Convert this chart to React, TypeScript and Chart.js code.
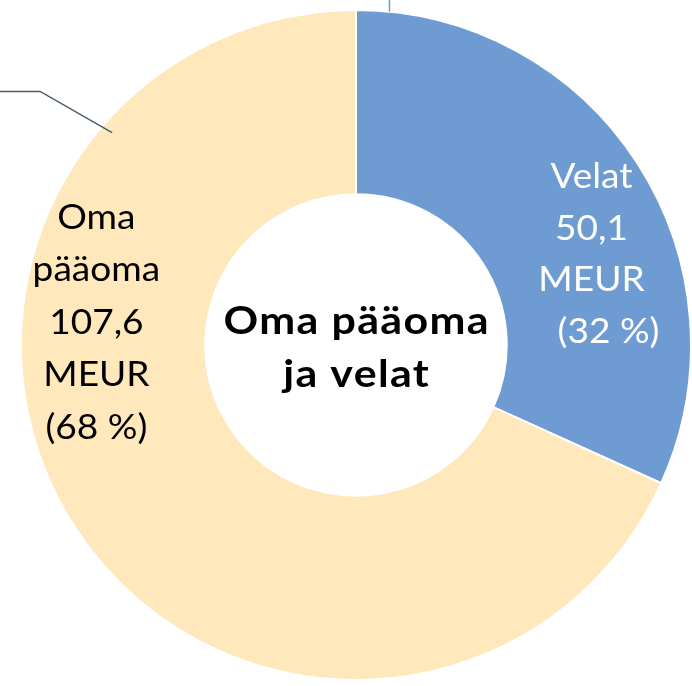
import React, { useEffect, useRef } from "react";
import { Chart, registerables } from "chart.js";

Chart.register(...registerables);

const categories = ["Velat", "Oma pääoma"];
const values = [50.1, 107.6];
const sliceColors = ["#6f9bd3", "#fee8bc"];
const velatLines = ["Velat", "50,1", "MEUR", "(32 %)"];
const omaLines = ["Oma", "pääoma", "107,6", "MEUR", "(68 %)"];
const centerLines = ["Oma pääoma", "ja velat"];

const FONT = "Lato, 'Open Sans', sans-serif";

function wideText(ctx: any, t: string, x: number, y: number, sx: number, spacing: number) {
  ctx.save();
  ctx.translate(x, y);
  ctx.scale(sx, 1);
  ctx.letterSpacing = `${spacing}px`;
  ctx.fillText(t, spacing / 2, 0);
  ctx.restore();
}

const labelPlugin = {
  id: "labels",
  afterDatasetsDraw(chart: any) {
    const ctx = chart.ctx;
    const meta = chart.getDatasetMeta(0);
    const arc = meta.data[0];
    if (!arc) return;
    const cx = arc.x;
    const cy = arc.y;
    const R = arc.outerRadius;
    ctx.save();
    // leader lines
    ctx.lineWidth = 1.5;
    ctx.strokeStyle = "#6f9bd3";
    ctx.beginPath();
    ctx.moveTo(cx + 0.1 * R, cy - 1.035 * R);
    ctx.lineTo(cx + 0.1 * R, cy - 0.995 * R);
    ctx.stroke();
    ctx.strokeStyle = "#4b5b6b";
    ctx.beginPath();
    ctx.moveTo(cx - 1.1 * R, cy - 0.757 * R);
    ctx.lineTo(cx - 0.943 * R, cy - 0.757 * R);
    ctx.lineTo(cx - 0.728 * R, cy - 0.634 * R);
    ctx.stroke();

    ctx.textAlign = "center";
    ctx.textBaseline = "middle";
    ctx.font = `34px ${FONT}`;
    const lh = 51.5;
    // Velat
    ctx.fillStyle = "#ffffff";
    const vx = cx + 0.703 * R;
    const vy = cy - 0.27 * R;
    velatLines.forEach((t, i) => {
      const dx = i === velatLines.length - 1 ? 17 : 0;
      wideText(ctx, t, vx + dx, vy + (i - (velatLines.length - 1) / 2) * lh, 1.09, 0);
    });
    // Oma pääoma
    ctx.fillStyle = "#000000";
    const ox = cx - 0.775 * R;
    const oy = cy - 0.066 * R;
    omaLines.forEach((t, i) => {
      wideText(ctx, t, ox, oy + (i - (omaLines.length - 1) / 2) * 52.5, 1.09, 0);
    });
    // center
    ctx.font = `bold 38px ${FONT}`;
    centerLines.forEach((t, i) => {
      wideText(ctx, t, cx, cy + 3 + (i - (centerLines.length - 1) / 2) * 53, 1.13, 1.2);
    });
    ctx.restore();
  },
};

export default function App() {
  const ref = useRef<HTMLCanvasElement>(null);
  useEffect(() => {
    if (!ref.current) return;
    const chart = new Chart(ref.current, {
      type: "doughnut",
      data: {
        labels: categories,
        datasets: [
          {
            data: values,
            backgroundColor: sliceColors,
            borderColor: "#ffffff",
            borderWidth: 2,
          },
        ],
      },
      options: {
        animation: false,
        responsive: false,
        cutout: "45%",
        layout: { padding: { left: 20, right: 0, top: 9, bottom: 5 } },
        plugins: {
          legend: { display: false },
          tooltip: { enabled: false },
        },
      },
      plugins: [labelPlugin],
    });
    return () => chart.destroy();
  }, []);
  return (
    <div style={{ position: "fixed", left: 0, top: 0, width: 692, height: 686, background: "#fff" }}>
      <canvas ref={ref} width={692} height={686} style={{ display: "block" }} />
    </div>
  );
}
